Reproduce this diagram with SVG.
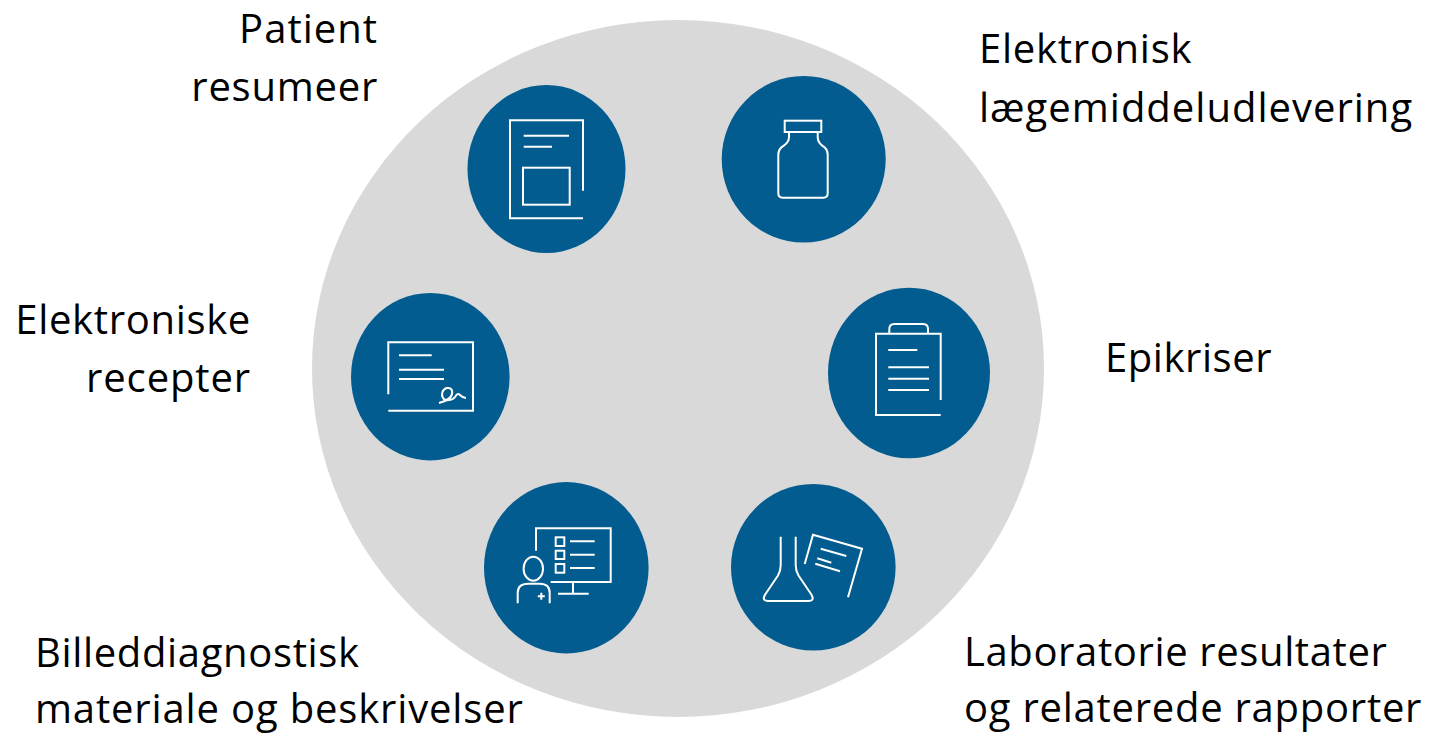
<svg xmlns="http://www.w3.org/2000/svg" width="1430" height="733" viewBox="0 0 1430 733">
<style>
.c{fill:#035c8f}
.i{fill:none;stroke:#fff;stroke-width:2;stroke-linejoin:miter}
text{font-family:"Open Sans","Noto Sans","Liberation Sans",sans-serif;font-size:40px;letter-spacing:.7px;fill:#000}
.r{text-anchor:end}
</style>
<rect width="1430" height="733" fill="#fff"/>
<ellipse id="bg" cx="678" cy="368.500" rx="366" ry="348.500" fill="#d9d9d9"/>
<g id="n-patient">
<ellipse class="c" cx="546.500" cy="169" rx="79" ry="84"/>
<path class="i" d="M583 190.700V120.300H510V218.300H583M523.700 135.700H569M523.700 146.700H552"/>
<rect class="i" x="523" y="167.700" width="46.700" height="37"/>
<text class="r" x="378" y="43" style="letter-spacing:1px">Patient</text><text class="r" x="378" y="101" style="letter-spacing:.75px">resumeer</text>
</g>
<g id="n-medicin">
<ellipse class="c" cx="803.700" cy="159.300" rx="82" ry="83.300"/>
<rect class="i" x="784.700" y="120.700" width="36.600" height="11.300"/>
<path class="i" d="M789 132V137Q789 142 784 145.500Q778.300 148.500 778.300 155V193.300Q778.300 197.700 782.700 197.700H823.300Q827.700 197.700 827.700 193.300V155Q827.700 148.500 822 145.500Q817.700 142 817.700 137V132"/>
<text x="979" y="63" style="letter-spacing:.73px">Elektronisk</text><text x="979" y="122" style="letter-spacing:1px">lægemiddeludlevering</text>
</g>
<g id="n-recepter">
<ellipse class="c" cx="430.300" cy="376.700" rx="79.300" ry="83.700"/>
<path class="i" d="M388.300 394.300V342.300H473V410.700H388.300M399 355.300H431.700M399 369.700H444M399 379H444"/>
<path class="i" d="M439 403C446 401 451 399 452 394C453 389 450 387.500 447 388C442 389 441 395 443 398C445 401 452 401 455 397C457 394 458 393 460 395C462 397 463 398 466 398"/>
<text class="r" x="251" y="334" style="letter-spacing:.67px">Elektroniske</text><text class="r" x="251" y="392" style="letter-spacing:.87px">recepter</text>
</g>
<g id="n-epikriser">
<ellipse class="c" cx="909" cy="373" rx="81" ry="85.300"/>
<path class="i" d="M940.700 400V333.700H876V415H940.700M889.300 333.700V329Q889.300 324 894.300 324H923Q928 324 928 329V333.700M888.300 350H917.300M888.300 367.300H929M888.300 378.700H929M888.300 390H929"/>
<text x="1105" y="372" style="letter-spacing:.55px">Epikriser</text>
</g>
<g id="n-billed">
<ellipse class="c" cx="566.300" cy="567.700" rx="82.300" ry="85.700"/>
<path class="i" d="M536 550.700V528.300H610.700V582H550.700M573 582V593.700M558 593.700H588.700M570 541.300H594.700M570 554.700H594.700M570 568H594.700"/>
<rect class="i" x="555.700" y="537.300" width="8.600" height="8.700"/><rect class="i" x="555.700" y="550.700" width="8.600" height="8.300"/><rect class="i" x="555.700" y="564" width="8.600" height="8.700"/>
<ellipse class="i" cx="533.300" cy="568.700" rx="9.700" ry="12"/>
<path class="i" d="M517.700 603.300V593Q517.700 583.700 528 583.700H539.700Q549.700 583.700 549.700 593V603.300M541.300 592.800V599.800M537.800 596.300H544.800"/>
<text x="35" y="667" style="letter-spacing:.65px">Billeddiagnostisk</text><text x="35" y="723" style="letter-spacing:.84px">materiale og beskrivelser</text>
</g>
<g id="n-lab">
<ellipse class="c" cx="813.300" cy="567.300" rx="82.300" ry="83.300"/>
<path class="i" d="M780.700 536.700V565.300Q780.700 571 778 575.500L765.500 594Q761 601 768.300 601H808.300Q815.500 601 811 594L798.500 575.500Q795.700 571 795.700 565.300V536.700"/>
<path class="i" d="M804.700 564L813 534.700L862 548.700L848 597.300M820.700 548.700L846.300 556M817.300 558.300L831.300 562.700M815.300 563.700L840 571.300"/>
<text x="964" y="666" style="letter-spacing:.62px">Laboratorie resultater</text><text x="964" y="722" style="letter-spacing:.74px">og relaterede rapporter</text>
</g>
<g id="connectors"/>
</svg>
